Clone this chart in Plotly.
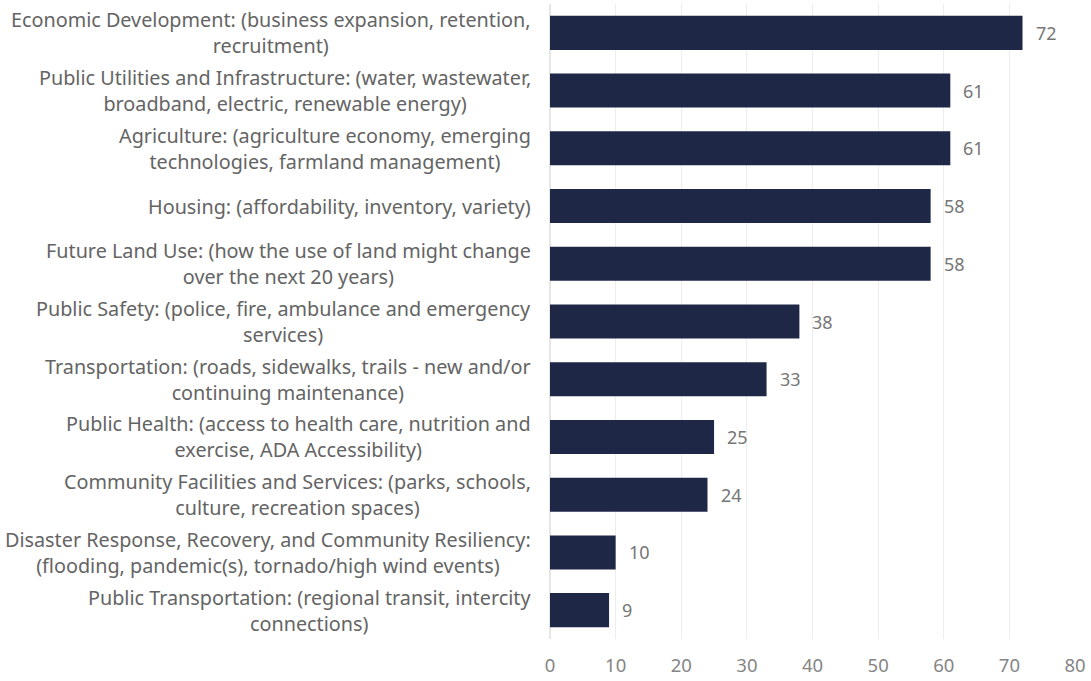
import plotly.graph_objects as go

# ---------- data ----------
categories = [
    "Economic Development: (business expansion, retention,<br>recruitment)",
    "Public Utilities and Infrastructure: (water, wastewater,<br>broadband, electric, renewable energy)",
    "Agriculture: (agriculture economy, emerging<br>technologies, farmland management)",
    "Housing: (affordability, inventory, variety)",
    "Future Land Use: (how the use of land might change<br>over the next 20 years)",
    "Public Safety: (police, fire, ambulance and emergency<br>services)",
    "Transportation: (roads, sidewalks, trails - new and/or<br>continuing maintenance)",
    "Public Health: (access to health care, nutrition and<br>exercise, ADA Accessibility)",
    "Community Facilities and Services: (parks, schools,<br>culture, recreation spaces)",
    "Disaster Response, Recovery, and Community Resiliency:<br>(flooding, pandemic(s), tornado/high wind events)",
    "Public Transportation: (regional transit, intercity<br>connections)",
]
values = [72, 61, 61, 58, 58, 38, 33, 25, 24, 10, 9]
x_ticks = [0, 10, 20, 30, 40, 50, 60, 70, 80]

FONT = "Noto Sans"
BAR = "#1e2746"

fig = go.Figure(go.Bar(
    x=values, y=categories, orientation="h",
    marker=dict(color=BAR, line=dict(width=0)),
    hoverinfo="x+y",
))

# value labels to the right of each bar
for c, v in zip(categories, values):
    fig.add_annotation(
        x=v, y=c, text=str(v), showarrow=False,
        xanchor="left", xshift=11,
        font=dict(family=FONT, size=18, color="#767676"),
    )

# category labels (centred lines, block right-aligned against the axis)
for c in categories:
    fig.add_annotation(
        x=0, y=c, xref="paper", text=c, showarrow=False,
        xanchor="right", xshift=-17, align="center",
        font=dict(family=FONT, size=19.8, color="#646464"),
    )

fig.update_layout(
    width=1091, height=681,
    margin=dict(l=550, r=16, t=4, b=42),
    paper_bgcolor="white", plot_bgcolor="white",
    bargap=0.41,
    showlegend=False,
    font=dict(family=FONT, size=18, color="#808080"),
    xaxis=dict(
        range=[0, 80], tickvals=x_ticks,
        showgrid=True, gridcolor="#ededed", gridwidth=1,
        zeroline=True, zerolinecolor="#e6e6e6",
        showline=False, ticks="", ticklabelstandoff=13,
        tickfont=dict(family=FONT, size=18.5, color="#858585"),
        fixedrange=True,
    ),
    yaxis=dict(
        autorange="reversed", showticklabels=False,
        showgrid=False, zeroline=False, showline=False, ticks="",
        fixedrange=True,
    ),
)

# page body margin would push the fixed-size figure off by 8px
fig.write_html(
    "out.html",
    config={"displayModeBar": False},
    post_script="document.body.style.margin='0';",
)
